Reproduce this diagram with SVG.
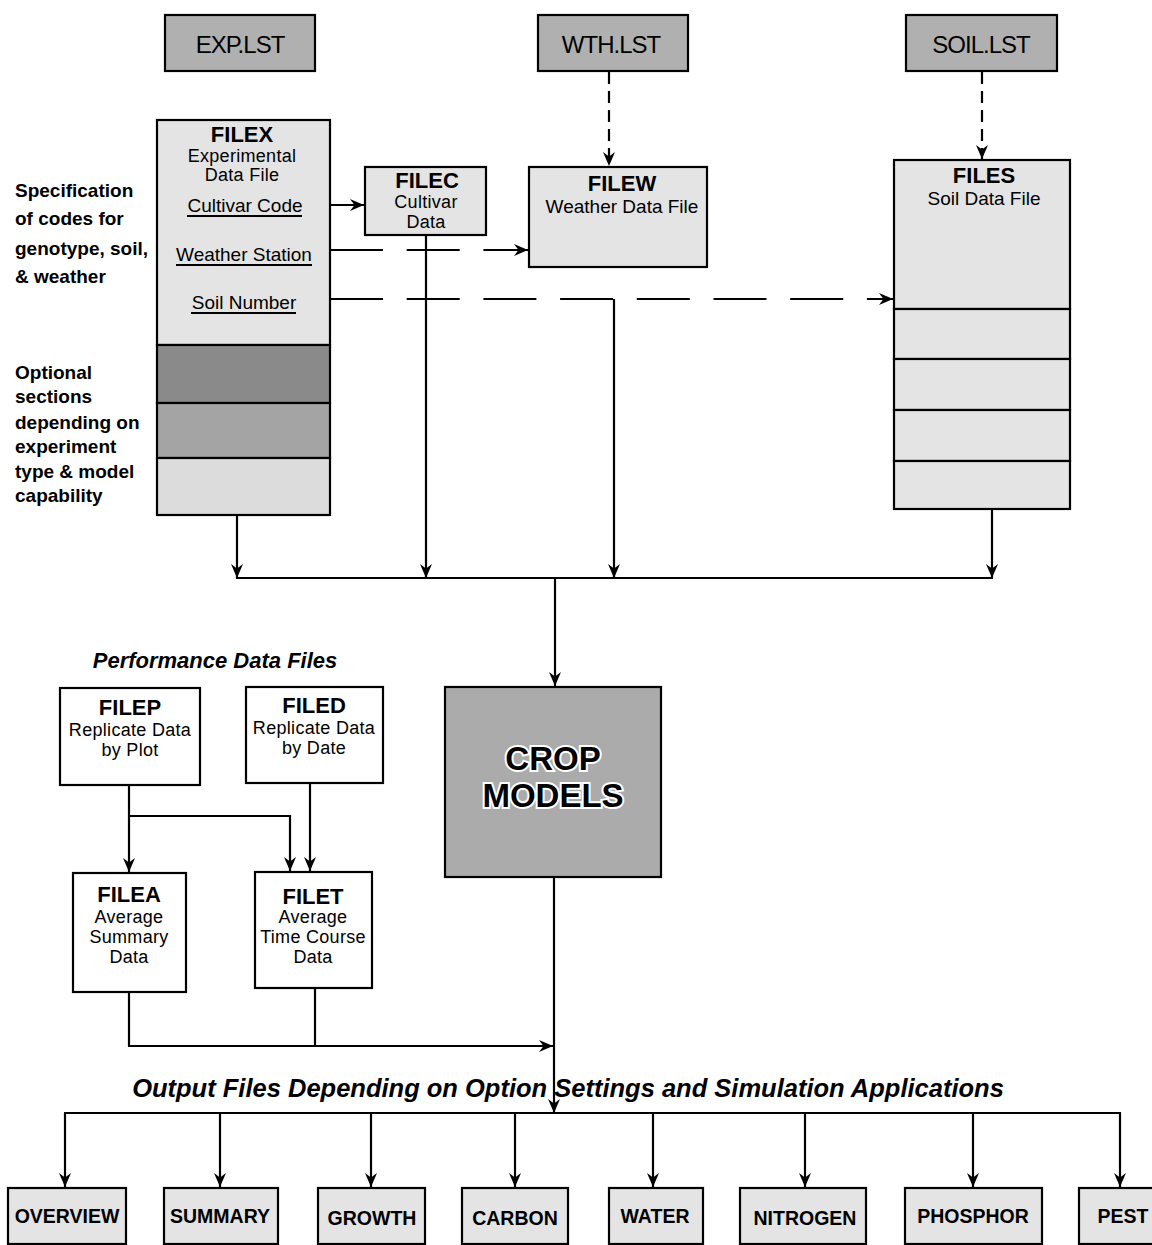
<svg xmlns="http://www.w3.org/2000/svg" width="1152" height="1245" viewBox="0 0 1152 1245">
<style>
text{font-family:"Liberation Sans",Arial,sans-serif;fill:#000}
.box{stroke:#000;stroke-width:2.2}
.lst{fill:#b0b0b0}
.lt{fill:#e4e4e4}
.wh{fill:#fff}
.t{font-size:18px;text-anchor:middle;letter-spacing:0.3px}
.t19{font-size:19px;text-anchor:middle}
.tb{font-size:22px;font-weight:bold;text-anchor:middle}
.lbl{font-size:19px;font-weight:bold}
.ob{font-size:19.5px;font-weight:bold;text-anchor:middle}
.ls{font-size:24px;text-anchor:middle;letter-spacing:-1px}
.cm{font-size:33px;font-weight:bold;text-anchor:middle;stroke:#fff;stroke-width:4px;paint-order:stroke}
.ln{fill:none;stroke:#000;stroke-width:2.2}
.dash{stroke-dasharray:53 23.7}
.sdash{stroke-dasharray:12 7}
.ul{stroke:#000;stroke-width:2}
</style>
<defs>
<marker id="ah" viewBox="0 0 14 12" refX="14" refY="6" markerWidth="14" markerHeight="12" markerUnits="userSpaceOnUse" orient="auto">
<path d="M0,0 L14,6 L0,12 L4.5,6 z" fill="#000"/>
</marker>
</defs>
<rect width="1152" height="1245" fill="#fff"/>

<g id="side-labels">
<text class="lbl" x="15" y="197">Specification</text>
<text class="lbl" x="15" y="225">of codes for</text>
<text class="lbl" x="15" y="255">genotype, soil,</text>
<text class="lbl" x="15" y="283">&amp; weather</text>
<text class="lbl" x="15" y="379">Optional</text>
<text class="lbl" x="15" y="403">sections</text>
<text class="lbl" x="15" y="429">depending on</text>
<text class="lbl" x="15" y="453">experiment</text>
<text class="lbl" x="15" y="478">type &amp; model</text>
<text class="lbl" x="15" y="502">capability</text>
<text x="215" y="668" font-size="22" font-weight="bold" font-style="italic" text-anchor="middle">Performance Data Files</text>
<text x="568" y="1097" font-size="25.5" font-weight="bold" font-style="italic" text-anchor="middle">Output Files Depending on Option Settings and Simulation Applications</text>
</g>

<g id="exp-lst"><rect class="box lst" x="165" y="15" width="150" height="56"/><text class="ls" x="240" y="53">EXP.LST</text></g>
<g id="wth-lst"><rect class="box lst" x="538" y="15" width="150" height="56"/><text class="ls" x="611" y="53">WTH.LST</text></g>
<g id="soil-lst"><rect class="box lst" x="906" y="15" width="151" height="56"/><text class="ls" x="981" y="53">SOIL.LST</text></g>

<g id="filex">
<rect class="box lt" x="157" y="120" width="173" height="225"/>
<rect class="box" fill="#8a8a8a" x="157" y="345" width="173" height="58"/>
<rect class="box" fill="#a4a4a4" x="157" y="403" width="173" height="55"/>
<rect class="box" fill="#dcdcdc" x="157" y="458" width="173" height="57"/>
<text class="tb" x="242" y="142">FILEX</text>
<text class="t" x="242" y="162">Experimental</text>
<text class="t" x="242" y="181">Data File</text>
<text class="t19" x="245" y="212">Cultivar Code</text>
<line class="ul" x1="187" y1="216" x2="302" y2="216"/>
<text class="t19" x="244" y="261">Weather Station</text>
<line class="ul" x1="176" y1="265" x2="312" y2="265"/>
<text class="t19" x="244" y="309">Soil Number</text>
<line class="ul" x1="191" y1="313" x2="296" y2="313"/>
</g>

<g id="filec"><rect class="box lt" x="365" y="167" width="121" height="68"/>
<text class="tb" x="427" y="188">FILEC</text><text class="t" x="426" y="208">Cultivar</text><text class="t" x="426" y="228">Data</text></g>

<g id="filew"><rect class="box lt" x="529" y="167" width="178" height="100"/>
<text class="tb" x="622" y="191">FILEW</text><text class="t19" x="622" y="213">Weather Data File</text></g>

<g id="files">
<rect class="box lt" x="894" y="160" width="176" height="149"/>
<rect class="box lt" x="894" y="309" width="176" height="50"/>
<rect class="box lt" x="894" y="359" width="176" height="51"/>
<rect class="box lt" x="894" y="410" width="176" height="51"/>
<rect class="box lt" x="894" y="461" width="176" height="48"/>
<text class="tb" x="984" y="183">FILES</text><text class="t19" x="984" y="205">Soil Data File</text>
</g>

<g id="crop-models"><rect class="box" fill="#ababab" x="445" y="687" width="216" height="190"/>
<text class="cm" x="553" y="770">CROP</text>
<text class="cm" x="553" y="807">MODELS</text></g>

<g id="filep"><rect class="box wh" x="60" y="688" width="140" height="97"/>
<text class="tb" x="130" y="715">FILEP</text><text class="t" x="130" y="736">Replicate Data</text><text class="t" x="130" y="756">by Plot</text></g>
<g id="filed"><rect class="box wh" x="246" y="687" width="137" height="96"/>
<text class="tb" x="314" y="713">FILED</text><text class="t" x="314" y="734">Replicate Data</text><text class="t" x="314" y="754">by Date</text></g>
<g id="filea"><rect class="box wh" x="73" y="873" width="113" height="119"/>
<text class="tb" x="129" y="902">FILEA</text><text class="t" x="129" y="923">Average</text><text class="t" x="129" y="943">Summary</text><text class="t" x="129" y="963">Data</text></g>
<g id="filet"><rect class="box wh" x="255" y="872" width="117" height="116"/>
<text class="tb" x="313" y="904">FILET</text><text class="t" x="313" y="923">Average</text><text class="t" x="313" y="943">Time Course</text><text class="t" x="313" y="963">Data</text></g>

<g id="out-overview"><rect class="box lt" x="8" y="1188" width="118" height="56"/><text class="ob" x="67" y="1223">OVERVIEW</text></g>
<g id="out-summary"><rect class="box lt" x="164" y="1188" width="114" height="56"/><text class="ob" x="220" y="1223">SUMMARY</text></g>
<g id="out-growth"><rect class="box lt" x="318" y="1188" width="107" height="56"/><text class="ob" x="372" y="1225">GROWTH</text></g>
<g id="out-carbon"><rect class="box lt" x="462" y="1188" width="106" height="56"/><text class="ob" x="515" y="1225">CARBON</text></g>
<g id="out-water"><rect class="box lt" x="609" y="1188" width="94" height="56"/><text class="ob" x="655" y="1223">WATER</text></g>
<g id="out-nitrogen"><rect class="box lt" x="740" y="1188" width="126" height="56"/><text class="ob" x="805" y="1225">NITROGEN</text></g>
<g id="out-phosphor"><rect class="box lt" x="905" y="1188" width="137" height="56"/><text class="ob" x="973" y="1223">PHOSPHOR</text></g>
<g id="out-pest"><rect class="box lt" x="1079" y="1188" width="90" height="56"/><text class="ob" x="1123" y="1223">PEST</text></g>

<g id="connectors">
<line class="ln sdash" x1="609" y1="72" x2="609" y2="166" marker-end="url(#ah)"/>
<line class="ln sdash" x1="982" y1="72" x2="982" y2="159" marker-end="url(#ah)"/>
<line class="ln" x1="331" y1="205" x2="364" y2="205" marker-end="url(#ah)"/>
<line class="ln dash" x1="330" y1="250" x2="528" y2="250" marker-end="url(#ah)"/>
<line class="ln dash" x1="330" y1="299" x2="893" y2="299" marker-end="url(#ah)"/>
<line class="ln" x1="426" y1="235" x2="426" y2="578" marker-end="url(#ah)"/>
<line class="ln" x1="614" y1="299" x2="614" y2="578" marker-end="url(#ah)"/>
<line class="ln" x1="237" y1="515" x2="237" y2="578" marker-end="url(#ah)"/>
<line class="ln" x1="992" y1="509" x2="992" y2="578" marker-end="url(#ah)"/>
<line class="ln" x1="236" y1="578" x2="993" y2="578"/>
<line class="ln" x1="555" y1="578" x2="555" y2="686" marker-end="url(#ah)"/>
<line class="ln" x1="129" y1="785" x2="129" y2="872" marker-end="url(#ah)"/>
<polyline class="ln" points="129,816 290,816 290,871" marker-end="url(#ah)"/>
<line class="ln" x1="310" y1="783" x2="310" y2="871" marker-end="url(#ah)"/>
<line class="ln" x1="129" y1="992" x2="129" y2="1046"/>
<line class="ln" x1="315" y1="988" x2="315" y2="1046"/>
<line class="ln" x1="128" y1="1046" x2="553" y2="1046" marker-end="url(#ah)"/>
<line class="ln" x1="554" y1="877" x2="554" y2="1113" marker-end="url(#ah)"/>
<line class="ln" x1="64" y1="1113" x2="1121" y2="1113"/>
<line class="ln" x1="65" y1="1113" x2="65" y2="1187" marker-end="url(#ah)"/>
<line class="ln" x1="220" y1="1113" x2="220" y2="1187" marker-end="url(#ah)"/>
<line class="ln" x1="371" y1="1113" x2="371" y2="1187" marker-end="url(#ah)"/>
<line class="ln" x1="515" y1="1113" x2="515" y2="1187" marker-end="url(#ah)"/>
<line class="ln" x1="653" y1="1113" x2="653" y2="1187" marker-end="url(#ah)"/>
<line class="ln" x1="805" y1="1113" x2="805" y2="1187" marker-end="url(#ah)"/>
<line class="ln" x1="973" y1="1113" x2="973" y2="1187" marker-end="url(#ah)"/>
<line class="ln" x1="1120" y1="1113" x2="1120" y2="1187" marker-end="url(#ah)"/>
</g>
</svg>
